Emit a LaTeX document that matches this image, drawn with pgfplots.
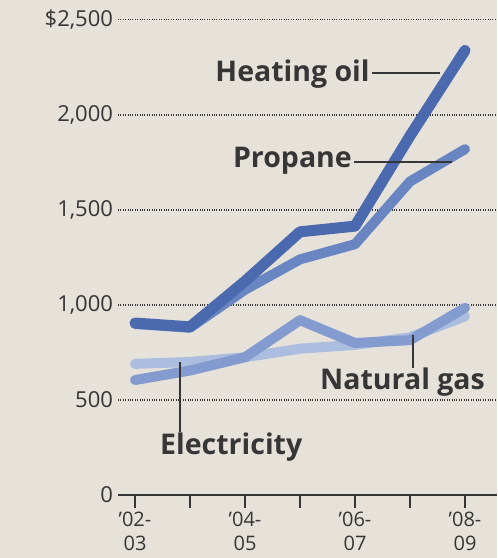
\documentclass[border=0pt]{standalone}
\usepackage{fontspec}
\setmainfont{Open Sans}
\usepackage{pgfplots}
\pgfplotsset{compat=1.18}
\usetikzlibrary{backgrounds}
\definecolor{paper}{HTML}{E6E2DA}
\definecolor{ink}{HTML}{363636}
\definecolor{oil}{HTML}{4B69AF}
\definecolor{propane}{HTML}{6A86C2}
\definecolor{gas}{HTML}{839BCF}
\definecolor{elec}{HTML}{ABBEDF}
\begin{document}
\begin{tikzpicture}
\begin{axis}[
  scale only axis, width=379pt, height=475pt,
  xmin=-0.309, xmax=6.582, ymin=0, ymax=2500,
  axis x line=bottom, axis y line=left,
  axis line style={-, ink, line width=1.8pt},
  y axis line style={draw=none},
  ytick={0,500,1000,1500,2000,2500},
  yticklabels={0,500,{1,000},{1,500},{2,000},{\$2,500}},
  ytick style={draw=none},
  ymajorgrids, grid style={ink, dotted, line width=1.1pt},
  yticklabel style={font=\fontsize{22}{24}\selectfont, text=ink, xshift=5pt},
  xtick={0,1,2,3,4,5,6},
  xticklabels={{’02-\\03},,{’04-\\05},,{’06-\\07},,{’08-\\09}},
  xtick align=outside, major tick length=13pt,
  xtick style={ink, line width=1.6pt},
  xticklabel style={font=\fontsize{20}{24}\selectfont, text=ink, align=center},
  clip=false,
]
\coordinate (BL) at (axis cs:-2.4545,-331.6);
\coordinate (TR) at (axis cs:6.582,2605);
\addplot[elec, line width=10pt, line join=round, line cap=round] coordinates {
 (0,690) (1,700) (2,725) (3,770) (4,790) (5,830) (6,940)};
\addplot[gas, line width=10pt, line join=round, line cap=round] coordinates {
 (0,605) (1,655) (2,725) (3,920) (4,800) (5,815) (6,985)};
\addplot[propane, line width=10pt, line join=round, line cap=round] coordinates {
 (0,900) (1,880) (2,1080) (3,1240) (4,1320) (5,1650) (6,1820)};
\addplot[oil, line width=11pt, line join=round, line cap=round] coordinates {
 (0,905) (1,885) (2,1125) (3,1385) (4,1415) (5,1890) (6,2340)};
\node[anchor=base east, text=ink, font=\bfseries\fontsize{28.5}{30}\selectfont, inner sep=0pt] at (axis cs:4.27,2174) {Heating oil};
\draw[ink, line width=1.8pt] (axis cs:4.31,2221) -- (axis cs:5.55,2221);
\node[anchor=base east, text=ink, font=\bfseries\fontsize{28.5}{30}\selectfont, inner sep=0pt] at (axis cs:3.945,1721) {Propane};
\draw[ink, line width=1.8pt] (axis cs:3.99,1753) -- (axis cs:5.76,1753);
\node[anchor=base west, text=ink, font=\bfseries\fontsize{28.5}{30}\selectfont, inner sep=0pt] at (axis cs:3.364,553) {Natural gas};
\draw[ink, line width=1.8pt] (axis cs:5.05,668) -- (axis cs:5.05,842);
\node[anchor=base west, text=ink, font=\bfseries\fontsize{28.5}{30}\selectfont, inner sep=0pt] at (axis cs:0.4545,211) {Electricity};
\draw[ink, line width=1.8pt] (axis cs:0.82,332) -- (axis cs:0.82,700);
\end{axis}
\begin{scope}[on background layer]
\fill[paper] (BL) rectangle (TR);
\end{scope}
\end{tikzpicture}
\end{document}
